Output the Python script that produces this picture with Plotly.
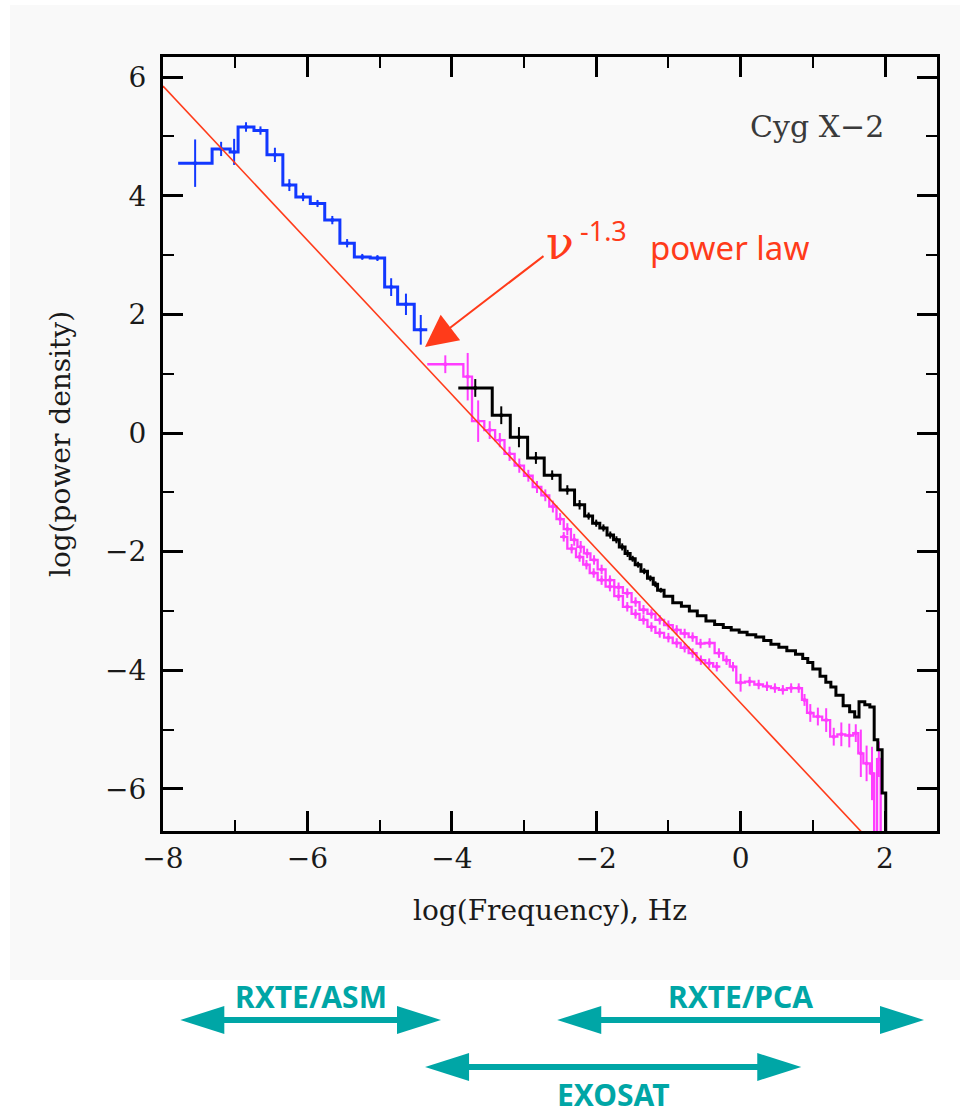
import plotly.graph_objects as go

# ---------------- data ----------------
# RXTE/ASM (blue): bin edges, values, errors
asm_edges = [-7.79, -7.32, -7.07, -6.96, -6.74, -6.56, -6.34, -6.16, -5.96, -5.76,
             -5.55, -5.35, -5.13, -4.93, -4.75, -4.52, -4.34]
asm_vals = [4.55, 4.79, 4.74, 5.16, 5.10, 4.69, 4.18, 3.98, 3.87, 3.59,
            3.20, 2.97, 2.95, 2.46, 2.17, 1.74]
asm_err = [0.40, 0.12, 0.22, 0.08, 0.07, 0.12, 0.10, 0.07, 0.06, 0.07,
           0.07, 0.05, 0.05, 0.15, 0.18, 0.25]

# EXOSAT (magenta), strand A
exo_a_edges = [-4.34, -3.84, -3.72, -3.55, -3.40, -3.27, -3.13, -3.00, -2.88, -2.76,
               -2.65, -2.55, -2.45, -2.35, -2.26, -2.17, -2.08, -1.98, -1.87, -1.75,
               -1.63, -1.51, -1.40, -1.29, -1.18, -1.06, -0.94, -0.83, -0.72, -0.61,
               -0.50, -0.36, -0.24, -0.15, -0.06, 0.06, 0.19, 0.31, 0.42, 0.53,
               0.64, 0.76, 0.85, 0.92, 1.01, 1.13, 1.24, 1.34, 1.45, 1.56,
               1.63, 1.70, 1.79, 1.85, 1.89, 1.94, 1.98]
exo_a_vals = [1.16, 0.95, 0.20, 0.05, -0.12, -0.35, -0.55, -0.72, -0.91, -1.05,
              -1.24, -1.45, -1.62, -1.80, -1.92, -2.03, -2.14, -2.30, -2.48, -2.60,
              -2.70, -2.85, -2.98, -3.05, -3.15, -3.24, -3.32, -3.38, -3.44, -3.55,
              -3.54, -3.71, -3.83, -3.94, -4.21, -4.19, -4.24, -4.27, -4.30, -4.33,
              -4.30, -4.30, -4.50, -4.72, -4.78, -4.84, -5.12, -5.08, -5.10, -5.06,
              -5.40, -5.57, -5.74, -7.00, -5.50, -7.00]
exo_a_err = [0.15, 0.40, 0.35, 0.15, 0.12, 0.12, 0.12, 0.10, 0.10, 0.10,
             0.10, 0.10, 0.10, 0.10, 0.10, 0.08, 0.08, 0.08, 0.08, 0.08,
             0.08, 0.08, 0.08, 0.08, 0.08, 0.08, 0.08, 0.08, 0.08, 0.08,
             0.08, 0.08, 0.08, 0.08, 0.15, 0.08, 0.08, 0.08, 0.08, 0.08,
             0.08, 0.08, 0.10, 0.15, 0.15, 0.20, 0.15, 0.20, 0.20, 0.15,
             0.40, 0.30, 0.45, 0.00, 0.30, 0.00]

# EXOSAT (magenta), strand B
exo_b_edges = [-2.50, -2.40, -2.28, -2.18, -2.09, -1.98, -1.87, -1.75, -1.63, -1.51,
               -1.40, -1.29, -1.18, -1.06, -0.94, -0.83, -0.72, -0.61, -0.49, -0.38, -0.28]
exo_b_vals = [-1.75, -1.95, -2.09, -2.22, -2.36, -2.48, -2.59, -2.75, -2.93, -3.05,
              -3.15, -3.27, -3.37, -3.45, -3.54, -3.62, -3.71, -3.83, -3.88, -3.94]
exo_b_err = [0.08, 0.08, 0.08, 0.08, 0.08, 0.08, 0.08, 0.08, 0.08, 0.08,
             0.08, 0.08, 0.08, 0.08, 0.08, 0.08, 0.08, 0.08, 0.08, 0.08]

# RXTE/PCA (black)
pca_edges = [-3.91, -3.44, -3.19, -2.95, -2.72, -2.50, -2.30, -2.16, -2.05, -1.95,
             -1.85, -1.76, -1.68, -1.60, -1.53, -1.46, -1.38, -1.29, -1.21, -1.15,
             -1.06, -0.94, -0.82, -0.71, -0.60, -0.48, -0.36, -0.24, -0.13, -0.02,
             0.09, 0.21, 0.32, 0.42, 0.53, 0.64, 0.76, 0.86, 0.93, 1.00,
             1.10, 1.18, 1.25, 1.32, 1.42, 1.51, 1.58, 1.64, 1.72, 1.79,
             1.85, 1.90, 1.96, 2.01, 2.05]
pca_vals = [0.76, 0.30, -0.07, -0.42, -0.71, -0.96, -1.21, -1.40, -1.52, -1.60,
            -1.72, -1.80, -1.92, -2.03, -2.12, -2.22, -2.33, -2.45, -2.55, -2.65,
            -2.75, -2.86, -2.92, -3.00, -3.08, -3.17, -3.23, -3.28, -3.32, -3.36,
            -3.40, -3.44, -3.50, -3.56, -3.61, -3.67, -3.73, -3.80, -3.87, -3.98,
            -4.10, -4.20, -4.28, -4.42, -4.60, -4.70, -4.79, -4.53, -4.58, -4.62,
            -5.17, -5.34, -6.07, -7.50]
pca_err = [0.15, 0.15, 0.17, 0.10, 0.08, 0.08, 0.08, 0.06, 0.06, 0.06,
           0.06, 0.06, 0.06, 0.06, 0.05, 0.05, 0.05, 0.05, 0.05, 0.04]

# power law nu^-1.3
pl_index = -1.3
pl_norm = -4.55          # log power density at log f = 0
pl_x = [-8.0, 2.72]

# instrument frequency ranges (log Hz)
ranges = {
    "RXTE/ASM": (-7.76, -4.15),
    "RXTE/PCA": (-2.54, 2.54),
    "EXOSAT": (-4.37, 0.84),
}

x_ticks = [-8, -6, -4, -2, 0, 2]
y_ticks = [-6, -4, -2, 0, 2, 4, 6]

# ---------------- figure ----------------
BLUE = "#1238ff"
MAG = "#ff3dff"
RED = "#ff3b1a"
TEAL = "#00a6a6"

W, H = 970, 1114
L, R, T, B = 163, 33, 57, 283
PW, PH = W - L - R, H - T - B


def px(xp):
    return (xp - L) / PW


def py(yp):
    return (H - B - yp) / PH


def centers(edges):
    return [(a + b) / 2 for a, b in zip(edges[:-1], edges[1:])]


fig = go.Figure()


def add_series(edges, vals, err, color, width):
    fig.add_trace(go.Scatter(
        x=edges, y=list(vals) + [vals[-1]], mode="lines",
        line=dict(shape="hv", color=color, width=width),
        hoverinfo="skip", showlegend=False))
    c = centers(edges)
    ex, ey, ee = [], [], []
    for xx, yy, e in zip(c, vals, err):
        if e > 0:
            ex.append(xx); ey.append(yy); ee.append(e)
    fig.add_trace(go.Scatter(
        x=ex, y=ey, mode="markers",
        marker=dict(size=4, color=color),
        error_y=dict(type="data", array=ee, thickness=2, width=0, color=color),
        hoverinfo="skip", showlegend=False))


add_series(exo_b_edges, exo_b_vals, exo_b_err, MAG, 2.3)
add_series(exo_a_edges, exo_a_vals, exo_a_err, MAG, 2.3)
add_series(pca_edges, pca_vals, pca_err, "black", 3)
add_series(asm_edges, asm_vals, asm_err, BLUE, 3)

fig.add_trace(go.Scatter(
    x=pl_x, y=[pl_norm + pl_index * v for v in pl_x], mode="lines",
    line=dict(color=RED, width=1.6), hoverinfo="skip", showlegend=False))

axis_common = dict(
    showgrid=False, zeroline=False, showline=True, linecolor="black", linewidth=3,
    mirror="allticks", ticks="inside", ticklen=20, tickwidth=2.5, tickcolor="black",
    tickfont=dict(family="DejaVu Serif", size=28, color="#1a1a1a"),
)

fig.update_layout(
    width=W, height=H, autosize=False,
    margin=dict(l=L, r=R, t=T, b=B, pad=0),
    paper_bgcolor="white", plot_bgcolor="#f9f9f9",
    xaxis=dict(range=[-8, 2.72], tickvals=x_ticks,
               minor=dict(dtick=1, tick0=-8, ticks="inside", ticklen=11,
                          tickwidth=2, tickcolor="black"),
               title=dict(text="log(Frequency), Hz",
                          font=dict(family="DejaVu Serif", size=28, color="#1a1a1a"),
                          standoff=27),
               **axis_common),
    yaxis=dict(range=[-6.71, 6.34], tickvals=y_ticks,
               minor=dict(dtick=1, tick0=0, ticks="inside", ticklen=11,
                          tickwidth=2, tickcolor="black"),
               title=dict(text="log(power density)",
                          font=dict(family="DejaVu Serif", size=28, color="#1a1a1a"),
                          standoff=27),
               ticklabelstandoff=8,
               **axis_common),
)

# grey panel behind the chart
fig.add_shape(type="rect", xref="paper", yref="paper",
              x0=px(10), x1=px(960), y0=py(980), y1=py(5),
              fillcolor="#f9f9f9", line=dict(width=0), layer="below")


def label(x, y, text, font, xref="paper"):
    fig.add_annotation(xref=xref, yref="paper", x=x, y=y, text=text,
                       showarrow=False, xanchor="center", yanchor="middle", font=font)


label(px(817), py(127), "Cyg X\u22122",
      dict(family="DejaVu Serif", size=30, color="#3a3a3a"))
label(px(560), py(243), "\u03bd", dict(family="DejaVu Serif", size=46, color=RED))
label(px(603), py(231), "-1.3", dict(family="Noto Sans", size=27, color=RED))
label(px(729), py(247), "power law", dict(family="Noto Sans", size=33, color=RED))

# arrow pointing to the power law
fig.add_annotation(xref="paper", yref="paper", x=px(425), y=py(347),
                   ax=120, ay=-92, text="", showarrow=True,
                   arrowhead=2, arrowsize=3.2, arrowwidth=2, arrowcolor=RED)

# instrument range arrows below the plot
arrow_rows = {"RXTE/ASM": 1020, "RXTE/PCA": 1020, "EXOSAT": 1067}
label_rows = {"RXTE/ASM": 996, "RXTE/PCA": 996, "EXOSAT": 1094}
head_len = 44 / PW * (2.72 + 8)      # in data units
head_half = 14 / PH                  # in paper units
for name, (x0, x1) in ranges.items():
    yc = py(arrow_rows[name])
    fig.add_shape(type="line", xref="x", yref="paper",
                  x0=x0 + head_len * 0.9, x1=x1 - head_len * 0.9, y0=yc, y1=yc,
                  line=dict(color=TEAL, width=6))
    fig.add_shape(type="path", xref="x", yref="paper",
                  path=f"M{x0},{yc} L{x0 + head_len},{yc + head_half} L{x0 + head_len},{yc - head_half} Z",
                  fillcolor=TEAL, line=dict(width=0))
    fig.add_shape(type="path", xref="x", yref="paper",
                  path=f"M{x1},{yc} L{x1 - head_len},{yc + head_half} L{x1 - head_len},{yc - head_half} Z",
                  fillcolor=TEAL, line=dict(width=0))
    label((x0 + x1) / 2, py(label_rows[name]), f"<b>{name}</b>",
          dict(family="Noto Sans", size=30, color=TEAL), xref="x")

fig.write_html("out.html")
